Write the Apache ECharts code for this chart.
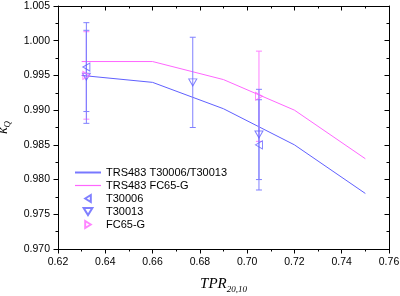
<!DOCTYPE html>
<html><head><meta charset="utf-8">
<script src="https://cdn.jsdelivr.net/npm/echarts@6/dist/echarts.min.js"></script>
<style>html,body{margin:0;padding:0;background:#fff}#c{width:400px;height:296px}</style>
</head><body><div id="c"></div>
<script>
// reference curves (TRS-483)
const tprGrid = [0.63, 0.66, 0.69, 0.72, 0.75];
const trsT300 = [0.995, 0.994, 0.9902, 0.985, 0.978];
const trsFC65 = [0.997, 0.997, 0.9944, 0.990, 0.983];
// measured points
const t30006X = [0.632, 0.705];
const t30006Y = [0.9962, 0.985];
const t30006E = [0.0064, 0.0065];
const t30013X = [0.632, 0.677, 0.705];
const t30013Y = [0.9948, 0.994, 0.9865];
const t30013E = [0.0067, 0.0065, 0.0065];
const fc65X = [0.632, 0.705];
const fc65Y = [0.995, 0.992];
const fc65E = [0.0063, 0.0065];
const xTicks = ['0.62','0.64','0.66','0.68','0.70','0.72','0.74','0.76'];
const yTicks = ['0.970','0.975','0.980','0.985','0.990','0.995','1.000','1.005'];

const BLUE = '#6060ff', PINK = '#ff66ff', EBLUE = '#8080ff', EPINK = '#ff80ff';
const zip = (a, b) => a.map((v, i) => [v, b[i]]);
const errData = (x, y, e) => x.map((v, i) => [v, y[i] - e[i], y[i] + e[i]]);

function errBar(color) {
  return function (params, api) {
    const x = api.value(0);
    const lo = api.coord([x, api.value(1)]);
    const hi = api.coord([x, api.value(2)]);
    const w = 3;
    const st = { stroke: color, lineWidth: 1 };
    return { type: 'group', children: [
      { type: 'line', shape: { x1: lo[0], y1: lo[1], x2: hi[0], y2: hi[1] }, style: st },
      { type: 'line', shape: { x1: lo[0] - w, y1: lo[1], x2: lo[0] + w, y2: lo[1] }, style: st },
      { type: 'line', shape: { x1: hi[0] - w, y1: hi[1], x2: hi[0] + w, y2: hi[1] }, style: st }
    ]};
  };
}

const font = 'Liberation Sans, Arial, sans-serif';
const serif = 'Liberation Serif, Times New Roman, serif';
const xMin = parseFloat(xTicks[0]), xMax = parseFloat(xTicks[xTicks.length - 1]);
const yMin = parseFloat(yTicks[0]), yMax = parseFloat(yTicks[yTicks.length - 1]);

const axBase = {
  type: 'value',
  axisLine: { show: true, onZero: false, lineStyle: { color: '#000', width: 1 } },
  splitLine: { show: false },
  minorTick: { show: true, splitNumber: 2, length: 2.5, lineStyle: { color: '#000' } },
  axisTick: { show: true, length: 4.5, lineStyle: { color: '#000' } }
};
const triLeft = 'path://M0,5L8,0L8,10Z';
const triDown = 'path://M0,0L10,0L5,8Z';
const triRight = 'path://M8,5L0,0L0,10Z';

const chart = echarts.init(document.getElementById('c'), null, { renderer: 'canvas' });
chart.setOption({
  animation: false,
  backgroundColor: '#fff',
  grid: { left: 58, right: 11, top: 6, bottom: 47, outerBoundsMode: 'none', containLabel: false },
  xAxis: [
    Object.assign({}, axBase, {
      position: 'bottom', min: xMin, max: xMax, interval: 0.02,
      axisLabel: { color: '#000', fontFamily: font, fontSize: 10.5, margin: 8,
        formatter: v => v.toFixed(2) },
      name: '{t|TPR}{s|20,10}', nameLocation: 'middle', nameGap: 26,
      nameTextStyle: { rich: {
        t: { fontFamily: serif, fontStyle: 'italic', fontSize: 15, color: '#000' },
        s: { fontFamily: serif, fontStyle: 'italic', fontSize: 9, color: '#000', padding: [10, 0, 0, 0] }
      }}
    }),
    Object.assign({}, axBase, {
      position: 'top', min: xMin, max: xMax, interval: 0.02,
      axisTick: { show: true, inside: true, length: 4.5, lineStyle: { color: '#000' } },
      minorTick: { show: true, splitNumber: 2, length: 2.5, lineStyle: { color: '#000' } },
      axisLabel: { show: false }
    })
  ],
  yAxis: [
    Object.assign({}, axBase, {
      position: 'left', min: yMin, max: yMax, interval: 0.005,
      axisLabel: { color: '#000', fontFamily: font, fontSize: 10.5, margin: 8,
        formatter: v => v.toFixed(3) },
      name: '{k|k}{q|Q}', nameLocation: 'middle', nameGap: 46, nameRotate: 90,
      nameTextStyle: { rich: {
        k: { fontFamily: serif, fontStyle: 'italic', fontSize: 15, color: '#000' },
        q: { fontFamily: serif, fontStyle: 'italic', fontSize: 9, color: '#000', padding: [9, 0, 0, 0] }
      }}
    }),
    Object.assign({}, axBase, {
      position: 'right', min: yMin, max: yMax, interval: 0.005,
      axisTick: { show: true, inside: true, length: 4.5, lineStyle: { color: '#000' } },
      minorTick: { show: true, splitNumber: 2, length: 2.5, lineStyle: { color: '#000' } },
      axisLabel: { show: false }
    })
  ],
  legend: {
    orient: 'vertical', left: 70, top: 161, itemWidth: 26, itemHeight: 7, itemGap: 0,
    symbolKeepAspect: true,
    textStyle: { fontFamily: font, fontSize: 11, color: '#000', lineHeight: 13 },
    data: [
      { name: 'TRS483 T30006/T30013', icon: 'path://M0,0h26v2h-26z',
        itemStyle: { color: BLUE, borderWidth: 0, opacity: 0.85 } },
      { name: 'TRS483 FC65-G', icon: 'path://M0,0h26v1.2h-26z',
        itemStyle: { color: PINK, borderWidth: 0 } },
      { name: 'T30006', icon: triLeft },
      { name: 'T30013', icon: triDown },
      { name: 'FC65-G', icon: triRight }
    ]
  },
  series: [
    { name: 'TRS483 T30006/T30013', type: 'line', data: zip(tprGrid, trsT300), symbol: 'none',
      lineStyle: { color: BLUE, width: 1 }, itemStyle: { color: BLUE }, z: 2 },
    { name: 'TRS483 FC65-G', type: 'line', data: zip(tprGrid, trsFC65), symbol: 'none',
      lineStyle: { color: PINK, width: 1 }, itemStyle: { color: PINK }, z: 2 },
    { type: 'custom', renderItem: errBar(EPINK), data: errData(fc65X, fc65Y, fc65E), encode: { x: 0, y: [1, 2] }, z: 3 },
    { type: 'custom', renderItem: errBar(EBLUE), data: errData(t30006X, t30006Y, t30006E), encode: { x: 0, y: [1, 2] }, z: 4 },
    { type: 'custom', renderItem: errBar(EBLUE), data: errData(t30013X, t30013Y, t30013E), encode: { x: 0, y: [1, 2] }, z: 4 },
    { name: 'T30006', type: 'scatter', data: zip(t30006X, t30006Y), symbol: triLeft,
      symbolSize: [7, 8], itemStyle: { color: 'rgba(255,255,255,0)', borderColor: BLUE, borderWidth: 1 }, z: 5 },
    { name: 'T30013', type: 'scatter', data: zip(t30013X, t30013Y), symbol: triDown,
      symbolSize: [8, 7], itemStyle: { color: 'rgba(255,255,255,0)', borderColor: BLUE, borderWidth: 1 }, z: 5 },
    { name: 'FC65-G', type: 'scatter', data: zip(fc65X, fc65Y), symbol: triRight,
      symbolSize: [7, 8], itemStyle: { color: 'rgba(255,255,255,0)', borderColor: PINK, borderWidth: 1 }, z: 5 }
  ]
});
</script></body></html>
